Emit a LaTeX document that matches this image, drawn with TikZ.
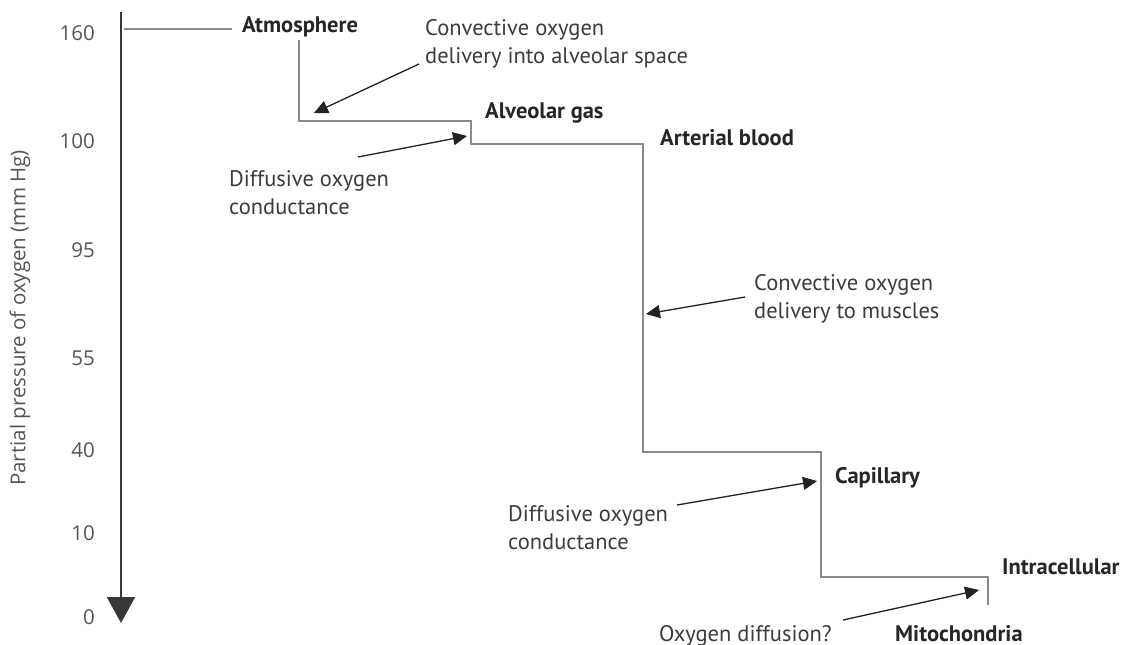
\documentclass[tikz,border=0pt]{standalone}
\usepackage{fontspec}
\setmainfont{PT Sans}
\newfontfamily\axisfont{Open Sans}
\usetikzlibrary{arrows.meta}
\definecolor{txt}{HTML}{3C3C3C}
\definecolor{boldc}{HTML}{262626}
\definecolor{axc}{HTML}{555555}
\definecolor{stepc}{HTML}{8A8A8A}
\definecolor{arr}{HTML}{222222}
\tikzset{
  lbl/.style={text=txt, font=\fontsize{22.5}{28}\selectfont, align=left, inner sep=0pt, anchor=base west},
  bold/.style={text=boldc, font=\fontsize{22.5}{28}\selectfont\bfseries, inner sep=0pt, anchor=base west},
  tick/.style={text=axc, font=\axisfont\fontsize{20.5}{24}\selectfont, inner sep=0pt, anchor=base east},
  stepline/.style={draw=stepc, line width=1.1pt},
  pointer/.style={draw=arr, line width=1.3pt, -{Triangle[length=14pt,width=13pt]}},
}
\begin{document}
\begin{tikzpicture}[x=1pt,y=-1pt]
\useasboundingbox (0,0) rectangle (1130,645);
% axis
\coordinate (axtop) at (121,12);
\coordinate (axbot) at (121,623);
\draw[draw=arr!90, line width=2pt, -{Triangle[length=26pt,width=28pt]}] (axtop) -- (axbot);
\node[tick] (t160) at (95,40) {160};
\node[tick] (t100) at (95,148) {100};
\node[tick] (t95) at (95,257) {95};
\node[tick] (t55) at (95,365) {55};
\node[tick] (t40) at (95,457) {40};
\node[tick] (t10) at (95,540) {10};
\node[tick] (t0) at (95,624) {0};
\node[text=axc, font=\axisfont\fontsize{20.5}{24}\selectfont, rotate=90, inner sep=0pt] (ylab) at (20,318) {Partial pressure of oxygen (mm Hg)};
% stage labels
\node[bold] (atm) at (242,32) {Atmosphere};
\node[bold] (alv) at (485,118) {Alveolar gas};
\node[bold] (art) at (660,145) {Arterial blood};
\node[bold] (cap) at (835,483) {Capillary};
\node[bold] (intra) at (1002,574) {Intracellular};
\node[bold] (mito) at (895,641) {Mitochondria};
% step line
\coordinate (s0) at (124,29);
\coordinate (sa) at (232,29);
\coordinate (s1) at (299,40);
\coordinate (s2) at (299,121);
\coordinate (s3) at (471,121);
\coordinate (s4) at (471,144);
\coordinate (s5) at (643,144);
\coordinate (s6) at (643,452);
\coordinate (s7) at (821,452);
\coordinate (s8) at (821,577);
\coordinate (s9) at (988,577);
\coordinate (s10) at (988,605);
\draw[stepline] (s0) -- (sa);
\draw[stepline] (s1) -- (s2) -- (s3) -- (s4) -- (s5) -- (s6) -- (s7) -- (s8) -- (s9) -- (s10);
% annotations (anchor = baseline of last line)
\node[lbl] (conv1) at (425,63) {Convective oxygen\\delivery into alveolar space};
\node[lbl] (diff1) at (229,214) {Diffusive oxygen\\conductance};
\node[lbl] (conv2) at (754,318) {Convective oxygen\\delivery to muscles};
\node[lbl] (diff2) at (508,549) {Diffusive oxygen\\conductance};
\node[lbl] (odiff) at (659,641) {Oxygen diffusion?};
% arrows
\coordinate (a1s) at (419,64); \coordinate (a1e) at (314,113);
\coordinate (a2s) at (358,157); \coordinate (a2e) at (467,136);
\coordinate (a3s) at (745,297); \coordinate (a3e) at (646,314);
\coordinate (a4s) at (677,505); \coordinate (a4e) at (817,481);
\coordinate (a5s) at (843,620); \coordinate (a5e) at (979,590);
\draw[pointer] (a1s) -- (a1e);
\draw[pointer] (a2s) -- (a2e);
\draw[pointer] (a3s) -- (a3e);
\draw[pointer] (a4s) -- (a4e);
\draw[pointer] (a5s) -- (a5e);
\end{tikzpicture}
\end{document}
